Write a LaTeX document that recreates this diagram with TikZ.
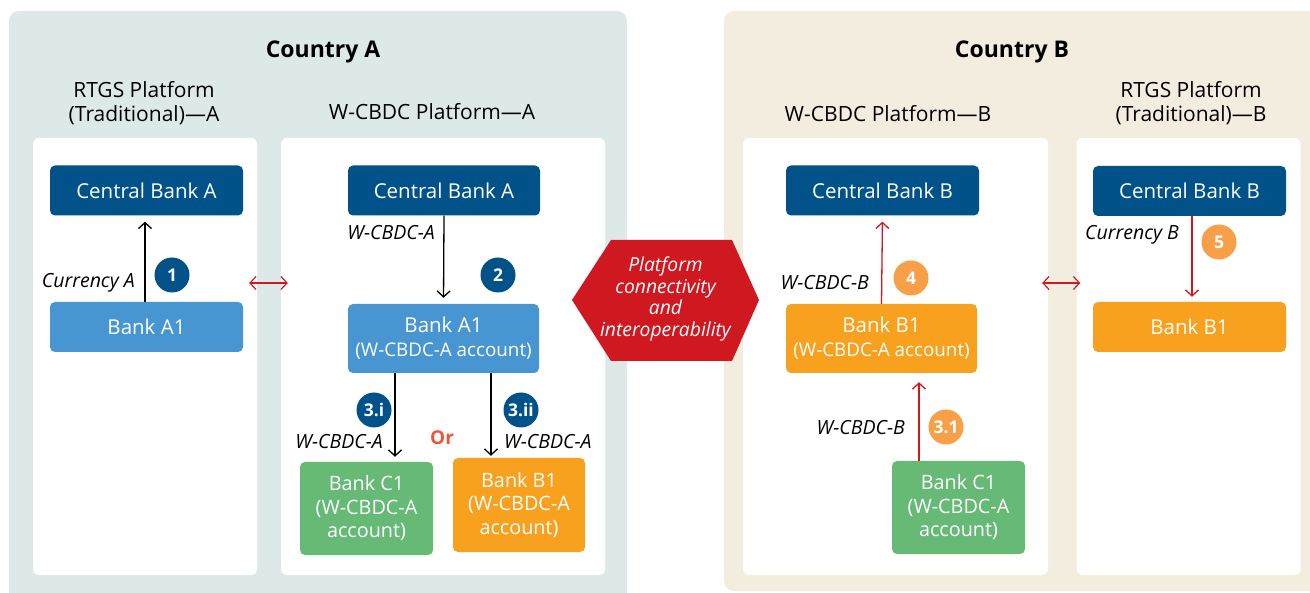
\documentclass[tikz,border=0pt]{standalone}
\usepackage{fontspec}
\setmainfont{Open Sans}
\usetikzlibrary{arrows.meta,calc}
\definecolor{panA}{RGB}{221,233,232}
\definecolor{panB}{RGB}{243,237,223}
\definecolor{dblue}{RGB}{2,82,138}
\definecolor{lblue}{RGB}{71,150,209}
\definecolor{bgreen}{RGB}{102,186,118}
\definecolor{borange}{RGB}{247,161,31}
\definecolor{badgeor}{RGB}{248,160,72}
\definecolor{hexred}{RGB}{207,24,32}
\definecolor{orred}{RGB}{235,85,60}
\begin{document}
\begin{tikzpicture}[x=1pt,y=-1pt,
  panelnode/.style={fill=white, rounded corners=6pt, inner sep=0pt},
  box/.style={rounded corners=5pt, text=white, align=center, inner sep=0pt,
    font=\fontsize{20.5}{24}\selectfont},
  cbbox/.style={box, fill=dblue, minimum width=193pt, minimum height=50pt},
  abox/.style={box, fill=lblue},
  gbox/.style={box, fill=bgreen, minimum width=133pt, minimum height=93pt,
    font=\fontsize{19.8}{23.5}\selectfont},
  obox/.style={box, fill=borange},
  badge/.style={circle, minimum size=35pt, inner sep=0pt, text=white,
    font=\bfseries\fontsize{17.5}{17.5}\selectfont},
  bdark/.style={badge, fill=dblue},
  borg/.style={badge, fill=badgeor},
  lbl/.style={font=\itshape\fontsize{19.5}{22}\selectfont, inner sep=0pt},
  head/.style={font=\fontsize{21}{24}\selectfont, align=center, inner sep=0pt},
  ctitle/.style={font=\bfseries\fontsize{23}{26}\selectfont, inner sep=0pt},
  arr/.style={line width=1.3pt, -{Straight Barb[length=6pt,width=13pt]}, shorten >=6pt},
  rarr/.style={arr, draw=hexred},
  dbl/.style={draw=hexred, line width=1.2pt,
    {Straight Barb[length=6pt,width=13pt]}-{Straight Barb[length=6pt,width=13pt]}}
]
\useasboundingbox (0,0) rectangle (1310,593);
\begin{scope}
\clip (0,0) rectangle (1310,593);
\fill[panA, rounded corners=10pt] (9,11) rectangle (627,606);
\fill[panB, rounded corners=10pt] (724,11) rectangle (1322,591);
\end{scope}

% titles
\node[ctitle] (tA) at (323,52) {Country A};
\node[ctitle] (tB) at (1012,52) {Country B};
\node[head] (hRA) at (144,103) {RTGS Platform\\(Traditional)—A};
\node[head] (hWA) at (432,112) {W-CBDC Platform—A};
\node[head] (hWB) at (888,114) {W-CBDC Platform—B};
\node[head] (hRB) at (1191,103) {RTGS Platform\\(Traditional)—B};

% white panels
\node[panelnode, minimum width=224pt, minimum height=437pt] (pRA) at (145,356.5) {};
\node[panelnode, minimum width=324pt, minimum height=437pt] (pWA) at (443,356.5) {};
\node[panelnode, minimum width=305pt, minimum height=437pt] (pWB) at (895.5,356.5) {};
\node[panelnode, minimum width=224pt, minimum height=437pt] (pRB) at (1188.5,356.5) {};

% boxes country A
\node[cbbox] (cbA1) at (146.5,190.5) {Central Bank A};
\node[abox, minimum width=193pt, minimum height=50pt] (bA1) at (146.5,327) {Bank A1};
\node[cbbox, minimum width=192pt] (cbA2) at (444,190.5) {Central Bank A};
\node[abox, minimum width=191pt, minimum height=69pt] (bA2) at (443.5,338.5)
  {Bank A1\\{\fontsize{18.8}{24}\selectfont(W-CBDC-A account)}};
\node[gbox] (cC1) at (366.5,508.5) {Bank C1\\(W-CBDC-A\\account)};
\node[obox, minimum width=132pt, minimum height=94pt, font=\fontsize{19.8}{23.5}\selectfont]
  (bB1a) at (519,505) {Bank B1\\(W-CBDC-A\\account)};

% boxes country B
\node[cbbox] (cbB2) at (882.5,190.5) {Central Bank B};
\node[obox, minimum width=191pt, minimum height=69pt] (bB1b) at (881.5,338.5)
  {Bank B1\\{\fontsize{18.8}{24}\selectfont(W-CBDC-A account)}};
\node[gbox] (cC1b) at (958.5,507.5) {Bank C1\\(W-CBDC-A\\account)};
\node[cbbox] (cbB3) at (1189.5,191) {Central Bank B};
\node[obox, minimum width=193pt, minimum height=50pt] (bB1c) at (1189.5,327) {Bank B1};

% hexagon
\fill[hexred] (572,300) -- (611,240) -- (732,240) -- (759,300) -- (732,361) -- (611,361) -- cycle;
\node[font=\itshape\fontsize{19.3}{21.5}\selectfont, text=white, align=center, inner sep=0pt]
  (hex) at (665.5,299) {Platform\\connectivity\\and\\interoperability};

% helper coordinates
\coordinate (lvl) at (0,283);
\coordinate (x3i) at (395,0);
\coordinate (x3ii) at (491,0);
\coordinate (x31) at (919,0);
\coordinate (x5) at (1192,0);
\coordinate (x1) at (145,0);

% arrows
\draw[arr] (bA1.north -| x1) -- (cbA1.south -| x1);
\draw[arr] (cbA2.south) -- (bA2.north);
\draw[arr, shorten >=5pt] (bA2.south -| x3i) -- (cC1.north -| x3i);
\draw[arr, shorten >=2pt] (bA2.south -| x3ii) -- (bB1a.north -| x3ii);
\draw[rarr] (bB1b.north) -- (cbB2.south);
\draw[rarr, shorten >=9pt] (cC1b.north -| x31) -- (bB1b.south -| x31);
\draw[rarr, shorten >=5pt] (cbB3.south -| x5) -- (bB1c.north -| x5);
\draw[dbl, shorten <=-8pt, shorten >=-7pt] (pRA.east |- lvl) -- (pWA.west |- lvl);
\draw[dbl, shorten <=-6pt, shorten >=-4pt] (pWB.east |- lvl) -- (pRB.west |- lvl);

% badges
\node[bdark] (b1) at (172,275) {1};
\node[bdark] (b2) at (498,275) {2};
\node[bdark] (b3i) at (374,410) {3.i};
\node[bdark] (b3ii) at (521,410) {3.ii};
\node[borg] (b4) at (911,278) {4};
\node[borg] (b31) at (946,427) {3.1};
\node[borg] (b5) at (1219,242) {5};

% labels
\node[lbl, anchor=east] (lcA) at (135,283) {Currency A};
\node[lbl, anchor=east] (lw2) at (435,233) {W-CBDC-A};
\node[lbl, anchor=east] (lw3i) at (383,442) {W-CBDC-A};
\node[lbl, anchor=west] (lw3ii) at (504,442) {W-CBDC-A};
\node[font=\bfseries\fontsize{19}{20}\selectfont, text=orred, inner sep=0pt] (or) at (442,438) {Or};
\node[lbl, anchor=east] (lw4) at (869,283) {W-CBDC-B};
\node[lbl, anchor=east] (lw31) at (905,428) {W-CBDC-B};
\node[lbl, anchor=west] (lcB) at (1085,235) {Currency B};
\end{tikzpicture}
\end{document}
